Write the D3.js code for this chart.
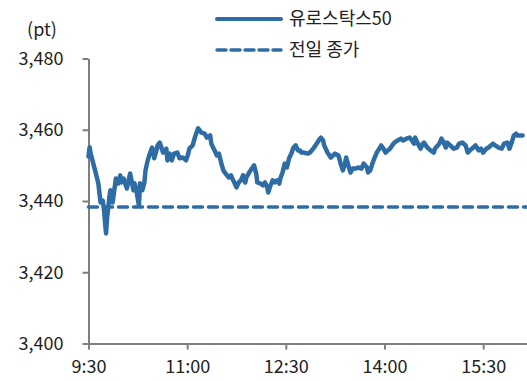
<!DOCTYPE html>
<html><head><meta charset="utf-8">
<script src="https://cdn.jsdelivr.net/npm/d3@7"></script>
<style>
body{margin:0;background:#fff;}
text{font-family:"Noto Sans CJK KR","Noto Sans",sans-serif;fill:#222;}
</style></head>
<body><svg id="c" width="527" height="381"></svg>
<script>
const seriesName = "유로스탁스50";
const refName = "전일 종가";
const unitLabel = "(pt)";
const prevClose = 3438.3;
const yTicks = [3400, 3420, 3440, 3460, 3480];
const xTickMinutes = [0, 90, 180, 270, 360];
const xTickLabels = ["9:30", "11:00", "12:30", "14:00", "15:30"];
// minutes after 9:30
const minutes = [0,1,2,6,9,10,11,13,14,16,17,19,20,22,25,27,29,30,32,35,38,41,42,44,46,47,49,51,52,54,56,58,60,62,63,65,68,71,72,74,76,78,81,83,86,89,91,92,95,97,100,103,106,108,111,112,115,117,119,121,123,125,128,130,132,133,135,137,139,141,143,144,146,149,151,153,154,157,159,161,163,164,166,168,170,172,174,175,177,179,181,183,185,187,189,191,193,194,196,200,202,205,207,210,212,214,215,218,221,223,225,228,230,232,234,235,237,239,241,244,246,249,251,254,255,257,259,261,263,266,267,269,271,273,275,277,279,282,285,287,290,293,295,297,298,300,303,305,306,309,312,315,316,320,322,324,326,327,330,333,336,338,341,344,346,348,351,353,356,358,360,363,365,367,369,371,374,377,379,382,384,386,388,390,391,394,396];
const values = [3452.5,3455.1,3453.3,3448.6,3444.9,3442.1,3439.6,3440.1,3437.9,3430.9,3435.4,3441.0,3443.0,3439.6,3446.3,3444.9,3447.2,3445.2,3446.3,3443.5,3447.7,3443.0,3445.0,3442.4,3438.7,3445.0,3443.0,3445.2,3448.6,3451.4,3453.3,3455.0,3452.0,3454.2,3455.6,3456.4,3453.6,3454.7,3451.4,3453.3,3451.4,3453.3,3453.6,3452.0,3452.2,3451.4,3453.3,3454.7,3455.6,3457.8,3460.4,3459.2,3458.9,3457.8,3458.4,3456.1,3454.2,3452.8,3453.3,3450.8,3448.6,3447.7,3446.6,3447.2,3445.8,3445.2,3443.8,3445.2,3445.8,3447.2,3445.2,3446.6,3447.7,3449.1,3450.0,3447.7,3445.2,3444.9,3444.4,3445.2,3443.8,3442.4,3444.4,3445.8,3445.2,3445.8,3444.9,3446.3,3448.0,3450.5,3449.4,3452.0,3453.3,3455.0,3455.6,3454.2,3454.2,3453.6,3453.6,3453.3,3453.6,3454.7,3455.6,3457.0,3457.8,3457.0,3455.6,3453.6,3452.2,3452.8,3453.3,3452.8,3450.5,3448.6,3450.5,3452.2,3450.0,3448.0,3449.1,3449.1,3449.4,3449.1,3450.5,3449.4,3448.0,3448.6,3450.5,3452.2,3453.6,3455.0,3455.6,3454.7,3453.6,3454.2,3454.7,3455.6,3456.4,3457.0,3457.5,3457.0,3457.5,3457.8,3457.0,3456.1,3457.8,3456.4,3454.7,3456.1,3456.4,3455.0,3454.2,3453.6,3454.7,3456.1,3457.5,3456.4,3455.0,3456.4,3455.6,3454.7,3455.0,3456.1,3456.4,3455.6,3453.6,3454.2,3455.0,3455.6,3454.2,3454.7,3453.6,3454.7,3455.0,3455.6,3456.1,3455.6,3455.0,3454.7,3456.1,3456.4,3454.7,3456.4,3458.4,3458.9,3458.4,3458.4,3458.4];

const color = "#2e6ca6";
const axisColor = "#7f7f7f";
const svg = d3.select("#c");
const x = d3.scaleLinear().domain([0, 400]).range([88.5, 527]);
const y = d3.scaleLinear().domain([3400, 3480]).range([343.5, 58.5]);

// axes
const yAxis = svg.append("g").attr("transform", "translate(88.5,0)")
  .call(d3.axisLeft(y).tickValues(yTicks).tickFormat(d3.format(",")).tickSize(6).tickSizeOuter(0).tickPadding(19));
const xAxis = svg.append("g").attr("transform", "translate(0,343.5)")
  .call(d3.axisBottom(x).tickValues(xTickMinutes).tickFormat((d, i) => xTickLabels[i]).tickSize(6).tickSizeOuter(0).tickPadding(11));
[yAxis, xAxis].forEach(g => {
  g.selectAll("path,line").attr("stroke", axisColor).attr("stroke-width", 2);
  g.selectAll("text").style("font-size", "18px").attr("fill", "#222");
});

// prev close dashed line
svg.append("line")
  .attr("x1", x(0)).attr("x2", x(400))
  .attr("y1", y(prevClose)).attr("y2", y(prevClose))
  .attr("stroke", color).attr("stroke-width", 3.5)
  .attr("stroke-dasharray", "9 6").attr("stroke-linecap", "round");

// series line
const data = minutes.map((m, i) => ({m, v: values[i]}));
svg.append("path").datum(data)
  .attr("fill", "none").attr("stroke", color).attr("stroke-width", 4.5)
  .attr("stroke-linejoin", "round").attr("stroke-linecap", "round")
  .attr("d", d3.line().x(d => x(d.m)).y(d => y(d.v)));

// unit
svg.append("text").attr("x", 42).attr("y", 36).attr("text-anchor", "middle")
  .style("font-size", "18px").text(unitLabel);

// legend
const lg = svg.append("g");
lg.append("line").attr("x1", 217).attr("x2", 281).attr("y1", 19).attr("y2", 19)
  .attr("stroke", color).attr("stroke-width", 4).attr("stroke-linecap", "round");
lg.append("text").attr("x", 289).attr("y", 25).style("font-size", "18px").text(seriesName);
lg.append("line").attr("x1", 217).attr("x2", 281).attr("y1", 50).attr("y2", 50)
  .attr("stroke", color).attr("stroke-width", 3.5).attr("stroke-dasharray", "9 5").attr("stroke-linecap", "round");
lg.append("text").attr("x", 289).attr("y", 56).style("font-size", "18px").text(refName);
</script></body></html>
